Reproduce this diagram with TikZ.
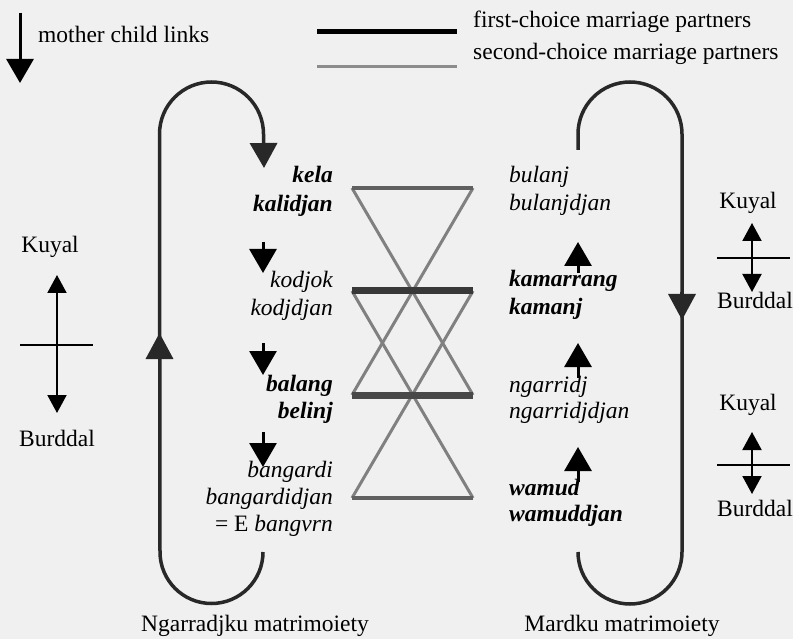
\documentclass[tikz,border=0pt]{standalone}
\usepackage{fontspec}
\setmainfont{Liberation Serif}
\usetikzlibrary{arrows.meta}
\definecolor{bgc}{RGB}{240,240,240}
\definecolor{loopc}{RGB}{40,40,40}
\definecolor{firstc}{RGB}{56,56,56}
\definecolor{secondc}{RGB}{128,128,128}
\definecolor{endbarc}{RGB}{96,96,96}
\definecolor{legsecc}{RGB}{140,140,140}
\begin{document}
\begin{tikzpicture}[x=1pt,y=-1pt,
  txt/.style={font=\fontsize{23.5}{28}\selectfont, inner sep=0pt},
  nm/.style={font=\fontsize{23.5}{28}\selectfont\itshape, inner sep=0pt},
  nmb/.style={font=\fontsize{23.5}{28}\selectfont\bfseries\itshape, inner sep=0pt},
  loopline/.style={line width=3.5pt, draw=loopc},
  bigarr/.style={line width=3.5pt, draw=loopc, -{Triangle[width=27pt,length=26pt]}},
  mcarr/.style={line width=3pt, draw=black, -{Triangle[width=27pt,length=24pt]}},
  smallarr/.style={line width=2pt, draw=black, {Triangle[width=19pt,length=18pt]}-{Triangle[width=19pt,length=18pt]}},
  firstline/.style={line width=7pt, draw=firstc},
  secondline/.style={line width=3pt, draw=secondc},
  endbar/.style={line width=4.5pt, draw=endbarc},
  legfirst/.style={line width=5pt, draw=black},
  legsecond/.style={line width=3pt, draw=legsecc},
  bar/.style={line width=1.8pt, draw=black}
]
\fill[bgc] (0,0) rectangle (793,639);
\useasboundingbox (0,0) rectangle (793,639);

% legend
\coordinate (mcA) at (20,13);
\coordinate (mcB) at (20,83);
\draw[mcarr] (mcA) -- (mcB);
\node[txt, anchor=mid west] (mclabel) at (38,40) {mother child links};
\coordinate (l1a) at (317,32);
\coordinate (l1b) at (457,32);
\coordinate (l2a) at (317,67);
\coordinate (l2b) at (457,67);
\draw[legfirst] (l1a) -- (l1b);
\draw[legsecond] (l2a) -- (l2b);
\node[txt, anchor=mid west] (firstlabel) at (473,25) {first-choice marriage partners};
\node[txt, anchor=mid west] (secondlabel) at (473,57) {second-choice marriage partners};

% left loop
\coordinate (Lbot) at (263,552);
\coordinate (Ltop) at (264,168);
\draw[loopline, -{Triangle[width=27pt,length=25pt]}] (Lbot) arc[start angle=0, end angle=180, radius=51.5]
  -- (159.5,134) arc[start angle=180, end angle=360, radius=52] -- (Ltop);
\coordinate (LmidA) at (159.5,358);
\coordinate (LmidB) at (159.5,333);
\draw[bigarr] (LmidA) -- (LmidB);

% right loop
\coordinate (Rtop) at (578,150);
\coordinate (Rbot) at (578,552);
\draw[loopline] (Rtop) -- (578,134) arc[start angle=180, end angle=360, radius=52]
  -- (682,552) arc[start angle=0, end angle=180, radius=52];
\coordinate (RmidA) at (682,292);
\coordinate (RmidB) at (682,320);
\draw[bigarr] (RmidA) -- (RmidB);

% left names
\node[nmb, anchor=mid east] (kela) at (333,180) {kela};
\node[nmb, anchor=mid east] (kalidjan) at (333,209) {kalidjan};
\node[nm, anchor=mid east] (kodjok) at (333,285) {kodjok};
\node[nm, anchor=mid east] (kodjdjan) at (333,313) {kodjdjan};
\node[nmb, anchor=mid east] (balang) at (333,389) {balang};
\node[nmb, anchor=mid east] (belinj) at (333,416) {belinj};
\node[nm, anchor=mid east] (bangardi) at (333,475) {bangardi};
\node[nm, anchor=mid east] (bangardidjan) at (333,502) {bangardidjan};
\node[txt, anchor=mid east] (bangvrn) at (333,529) {= E \textit{bangvrn}};

\coordinate (la1) at (263,242);
\coordinate (lb1) at (263,273);
\coordinate (la2) at (263,343);
\coordinate (lb2) at (263,375);
\coordinate (la3) at (263,432);
\coordinate (lb3) at (263,467);
\draw[mcarr] (la1) -- (lb1);
\draw[mcarr] (la2) -- (lb2);
\draw[mcarr] (la3) -- (lb3);

% right names
\node[nm, anchor=mid west] (bulanj) at (509,180) {bulanj};
\node[nm, anchor=mid west] (bulanjdjan) at (509,208) {bulanjdjan};
\node[nmb, anchor=mid west] (kamarrang) at (509,284) {kamarrang};
\node[nmb, anchor=mid west] (kamanj) at (509,312) {kamanj};
\node[nm, anchor=mid west] (ngarridj) at (509,390) {ngarridj};
\node[nm, anchor=mid west] (ngarridjdjan) at (509,416) {ngarridjdjan};
\node[nmb, anchor=mid west] (wamud) at (509,493) {wamud};
\node[nmb, anchor=mid west] (wamuddjan) at (509,519) {wamuddjan};

\coordinate (ra1) at (578,273);
\coordinate (rb1) at (578,242);
\coordinate (ra2) at (578,378);
\coordinate (rb2) at (578,343);
\coordinate (ra3) at (578,482);
\coordinate (rb3) at (578,447);
\draw[mcarr] (ra1) -- (rb1);
\draw[mcarr] (ra2) -- (rb2);
\draw[mcarr] (ra3) -- (rb3);

% marriage figure
\coordinate (t1l) at (352,188);
\coordinate (t1r) at (473,188);
\coordinate (t2l) at (352,291);
\coordinate (t2r) at (473,291);
\coordinate (t3l) at (352,395);
\coordinate (t3r) at (473,395);
\coordinate (t4l) at (352,498);
\coordinate (t4r) at (473,498);
\draw[secondline] (t1l) -- (t3r);
\draw[secondline] (t1r) -- (t3l);
\draw[secondline] (t2l) -- (t4r);
\draw[secondline] (t2r) -- (t4l);
\draw[endbar] (t1l) -- (t1r);
\draw[endbar] (t4l) -- (t4r);
\draw[firstline] (t2l) -- (t2r);
\draw[firstline, draw={rgb,255:red,72;green,72;blue,72}] (t3l) -- (t3r);

% bottom labels
\node[txt] (ngarradjku) at (255,626) {Ngarradjku matrimoiety};
\node[txt] (mardku) at (622,626) {Mardku matrimoiety};

% left Kuyal/Burddal
\node[txt] (kuyalL) at (50,247) {Kuyal};
\node[txt] (burddalL) at (57,438) {Burddal};
\coordinate (kLup) at (57,275);
\coordinate (kLdn) at (57,413);
\coordinate (kLb1) at (20,345);
\coordinate (kLb2) at (93,345);
\draw[smallarr] (kLdn) -- (kLup);
\draw[bar] (kLb1) -- (kLb2);

% right upper Kuyal/Burddal
\node[txt] (kuyalR1) at (748,203) {Kuyal};
\node[txt] (burddalR1) at (755,300) {Burddal};
\coordinate (kR1up) at (752,223);
\coordinate (kR1dn) at (752,292);
\coordinate (kR1b1) at (717,258);
\coordinate (kR1b2) at (790,258);
\draw[smallarr] (kR1dn) -- (kR1up);
\draw[bar] (kR1b1) -- (kR1b2);

% right lower Kuyal/Burddal
\node[txt] (kuyalR2) at (748,405) {Kuyal};
\node[txt] (burddalR2) at (755,508) {Burddal};
\coordinate (kR2up) at (752,432);
\coordinate (kR2dn) at (752,494);
\coordinate (kR2b1) at (717,465);
\coordinate (kR2b2) at (790,465);
\draw[smallarr] (kR2dn) -- (kR2up);
\draw[bar] (kR2b1) -- (kR2b2);
\end{tikzpicture}
\end{document}
